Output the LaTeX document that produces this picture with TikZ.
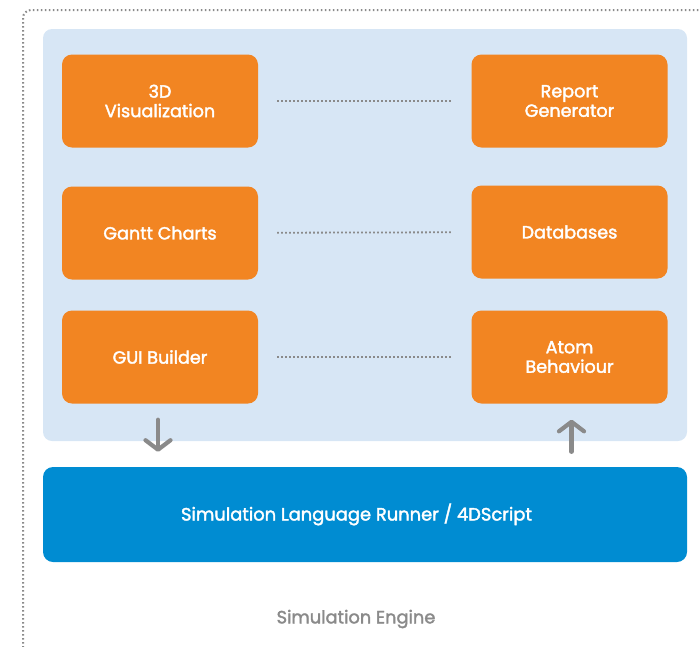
\documentclass[tikz,border=0pt]{standalone}
\usepackage{fontspec}
\setmainfont{Poppins}[BoldFont={Poppins},BoldFeatures={FakeBold=2}]
\usetikzlibrary{arrows.meta}
\definecolor{orangebox}{HTML}{F28522}
\definecolor{panelblue}{HTML}{D7E6F5}
\definecolor{runnerblue}{HTML}{008CD2}
\definecolor{linegray}{HTML}{8A8A8A}
\begin{document}
\begin{tikzpicture}[x=1pt,y=-1pt,
  module/.style={fill=orangebox,rounded corners=10pt,minimum width=196pt,minimum height=93pt,
    text=white,font=\fontsize{17.6}{19.5}\selectfont\bfseries,align=center,inner sep=0pt},
  link/.style={linegray,line width=1.8pt,dash pattern=on 1.6pt off 2.4pt,shorten <=19pt,shorten >=19pt},
  flow/.style={linegray,line width=4.2pt,line cap=round,-{Straight Barb[length=9.5pt,width=25pt,line width=4.2pt,round]}}]
\useasboundingbox (0,0) rectangle (699,646);
\clip (0,0) rectangle (699,646);
% outer frame
\draw[linegray,line width=2pt,dash pattern=on 1.6pt off 2.4pt,rounded corners=8pt] (23,10) rectangle (740,690);
\fill[panelblue,rounded corners=9pt] (43,29) rectangle (687,441);
\node[module] (3d) at (160,101) {3D\\Visualization};
\node[module] (report) at (569.5,101) {Report\\Generator};
\node[module] (gantt) at (160,233) {Gantt Charts};
\node[module] (db) at (569.5,232) {Databases};
\node[module] (gui) at (160,357) {GUI Builder};
\node[module] (atom) at (569.5,357) {Atom\\Behaviour};
\node[fill=runnerblue,rounded corners=10pt,minimum width=644pt,minimum height=95pt,text=white,
  font=\fontsize{17.9}{20}\selectfont\bfseries,inner sep=0pt] (runner) at (365,514.5) {Simulation Language Runner / 4DScript\hspace*{17pt}};
\node[text=linegray,font=\fontsize{17.8}{19}\selectfont\bfseries] (engine) at (356,619) {Simulation Engine};
\draw[link] (3d) -- (report);
\draw[link] (gantt) -- (db);
\draw[link] (gui) -- (atom);
\draw[flow,shorten <=16pt,shorten >=15pt] ([xshift=-2pt]gui.south) -- ([xshift=-2pt]gui.south |- runner.north);
\draw[flow,shorten <=15pt,shorten >=16pt] ([xshift=2pt]atom.south |- runner.north) -- ([xshift=2pt]atom.south);
\end{tikzpicture}
\end{document}
